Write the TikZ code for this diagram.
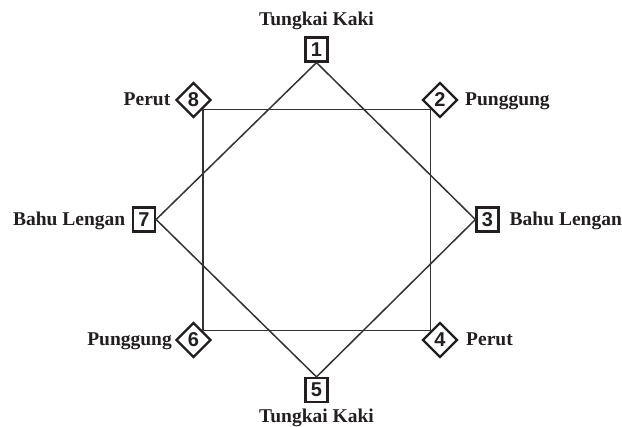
\documentclass[tikz,border=0pt]{standalone}
\usepackage{fontspec}
\setmainfont{Liberation Serif}
\newfontfamily\digitfont{Liberation Sans}
\usetikzlibrary{shapes.geometric}
\definecolor{ink}{HTML}{231F20}
\definecolor{wire}{HTML}{333333}
\tikzset{
  numbox/.style={draw=ink, line width=2.2pt, rectangle, minimum width=22pt, minimum height=24pt, inner sep=0pt, text=ink, font=\digitfont\bfseries\fontsize{20}{20}\selectfont},
  numdia/.style={draw=ink, line width=2.2pt, diamond, aspect=1, minimum width=35pt, minimum height=35pt, inner sep=0pt, text=ink, font=\digitfont\bfseries\fontsize{20}{20}\selectfont},
  lbl/.style={inner sep=0pt, text=ink, font=\bfseries\fontsize{19.5}{19.5}\selectfont},
  wireline/.style={draw=wire, line width=1.5pt},
}
\begin{document}
\begin{tikzpicture}[x=1pt, y=-1pt]
\useasboundingbox (0,0) rectangle (622,427);
% square boxes
\node[numbox] (n1) at (316.5,49.5) {1};
\node[numbox] (n5) at (316.5,390) {5};
\node[numbox] (n7) at (144,219.5) {7};
\node[numbox] (n3) at (487.5,219.5) {3};
% diamonds
\node[numdia] (d8) at (193.5,100) {8};
\node[numdia] (d2) at (440,100) {2};
\node[numdia] (d6) at (193.5,340) {6};
\node[numdia] (d4) at (440,340) {4};
% connectors
\draw[wireline] (n1.south) -- (n7.east) -- (n5.north) -- (n3.west) -- cycle;
\draw[wireline] (d8.-45) -- (d2.-135) -- (d4.135) -- (d6.45) -- cycle;
% labels
\node[lbl, anchor=base] (t1) at (316.5,25.5) {Tungkai Kaki};
\node[lbl, anchor=base] (t5) at (316.5,422.5) {Tungkai Kaki};
\node[lbl, anchor=base east] (t8) at (170.5,106) {Perut};
\node[lbl, anchor=base west] (t2) at (465,106) {Punggung};
\node[lbl, anchor=base east] (t7) at (125.5,226) {Bahu Lengan};
\node[lbl, anchor=base west] (t3) at (509.5,226) {Bahu Lengan};
\node[lbl, anchor=base east] (t6) at (172,345.5) {Punggung};
\node[lbl, anchor=base west] (t4) at (466,346) {Perut};
\end{tikzpicture}
\end{document}
